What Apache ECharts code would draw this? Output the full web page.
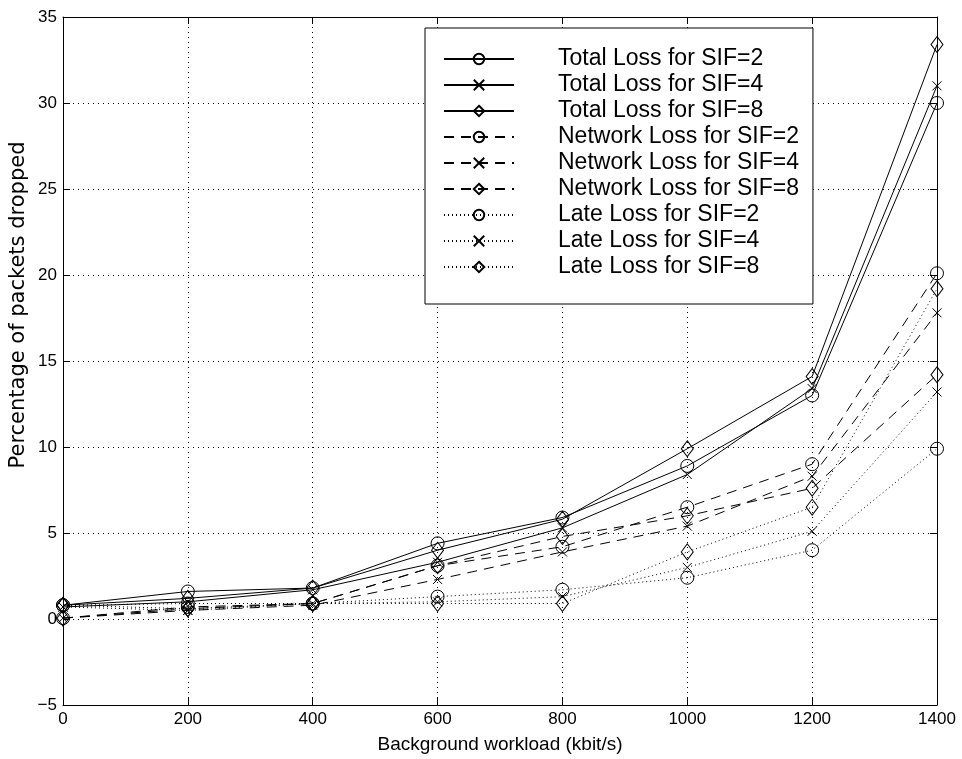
<!DOCTYPE html>
<html>
<head>
<meta charset="utf-8">
<script src="https://cdn.jsdelivr.net/npm/echarts@6/dist/echarts.min.js"></script>
<style>html,body{margin:0;padding:0;background:#fff;}#c{width:962px;height:759px;}</style>
</head>
<body>
<div id="c"></div>
<script>
const xValues = [0, 200, 400, 600, 800, 1000, 1200, 1400];
const totalSIF2 = [0.8, 1.6, 1.8, 4.4, 5.9, 8.9, 13.0, 30.0];
const totalSIF4 = [0.7, 1.0, 1.7, 3.3, 5.3, 8.4, 13.4, 31.0];
const totalSIF8 = [0.8, 1.2, 1.8, 4.0, 5.8, 9.9, 14.1, 33.4];
const networkSIF2 = [0.05, 0.7, 0.9, 3.1, 4.2, 6.5, 9.0, 20.1];
const networkSIF4 = [0.05, 0.5, 0.8, 2.3, 3.9, 5.4, 8.3, 17.8];
const networkSIF8 = [0.05, 0.6, 0.9, 3.1, 4.8, 6.0, 7.6, 14.2];
const lateSIF2 = [0.8, 0.9, 0.9, 1.3, 1.7, 2.4, 4.0, 9.9];
const lateSIF4 = [0.7, 0.5, 0.9, 1.0, 1.3, 3.0, 5.1, 13.2];
const lateSIF8 = [0.8, 0.6, 0.9, 0.9, 0.9, 3.9, 6.5, 19.2];
const seriesNames = [
  'Total Loss for SIF=2', 'Total Loss for SIF=4', 'Total Loss for SIF=8',
  'Network Loss for SIF=2', 'Network Loss for SIF=4', 'Network Loss for SIF=8',
  'Late Loss for SIF=2', 'Late Loss for SIF=4', 'Late Loss for SIF=8'
];
const seriesData = [totalSIF2, totalSIF4, totalSIF8, networkSIF2, networkSIF4, networkSIF8, lateSIF2, lateSIF4, lateSIF8];
const yAxisTitle = 'Percentage of packets dropped';

const FONT = 'Liberation Sans, Arial, Helvetica, sans-serif';
const WIDEFONT = 'DejaVu Sans, Verdana, sans-serif';
const markers = [
  {symbol: 'circle', size: 13},
  {symbol: 'path://M0,0L10,10M10,0L0,10', size: 9},
  {symbol: 'diamond', size: [12, 16]}
];
const dashes = ['solid', [10, 7], [1, 3]];

const series = seriesData.map((d, i) => {
  const m = markers[i % 3];
  const dash = dashes[Math.floor(i / 3)];
  return {
    name: seriesNames[i],
    type: 'line',
    data: xValues.map((x, j) => [x, d[j]]),
    symbol: m.symbol,
    symbolSize: m.size,
    showAllSymbol: true,
    animation: false,
    lineStyle: {color: '#000', width: 1, type: dash},
    itemStyle: {color: 'rgba(0,0,0,0)', borderColor: '#000', borderWidth: 1},
    emphasis: {disabled: true},
    z: 3
  };
});

const gridLine = {show: true, lineStyle: {color: '#000', type: [1, 4], width: 1}};
const axisLine = {show: true, onZero: false, lineStyle: {color: '#000', width: 1}};
const axisTick = {show: true, inside: true, length: 7, lineStyle: {color: '#000'}};
const chart = echarts.init(document.getElementById('c'));
chart.setOption({
  backgroundColor: '#fff',
  animation: false,
  grid: {left: 63, right: 25, top: 17, bottom: 52},
  legend: {
    orient: 'vertical',
    left: 425,
    top: 28,
    data: seriesNames,
    itemWidth: 70,
    itemHeight: 13,
    itemGap: 0,
    padding: [18, 14, 24, 18],
    backgroundColor: '#fff',
    borderColor: '#000',
    borderWidth: 1,
    borderRadius: 0,
    textStyle: {fontFamily: FONT, fontSize: 23, lineHeight: 26, color: '#000', padding: [0, 0, 0, 39]},
    selectedMode: false
  },
  graphic: [{
    type: 'text',
    x: 19, y: 305,
    rotation: Math.PI / 2,
    style: {text: yAxisTitle, font: '21px DejaVu Sans, Verdana, sans-serif', fill: '#000',
      textAlign: 'center', textVerticalAlign: 'middle'}
  }],
  xAxis: [{
    type: 'value', min: 0, max: 1400, interval: 200,
    name: 'Background workload (kbit/s)', nameLocation: 'middle', nameGap: 30,
    nameTextStyle: {fontFamily: FONT, fontSize: 19, color: '#000'},
    axisLine: axisLine, axisTick: axisTick,
    axisLabel: {fontFamily: FONT, fontSize: 17, color: '#000', margin: 6, formatter: v => String(v)},
    splitLine: gridLine
  }, {
    type: 'value', min: 0, max: 1400, interval: 200, position: 'top',
    axisLine: axisLine, axisTick: axisTick,
    axisLabel: {show: false}, splitLine: {show: false}
  }],
  yAxis: [{
    type: 'value', min: -5, max: 35, interval: 5,
    axisLine: axisLine, axisTick: axisTick,
    axisLabel: {fontFamily: FONT, fontSize: 17, color: '#000', margin: 6,
      formatter: v => String(v).replace('-', '\u2212')},
    splitLine: gridLine
  }, {
    type: 'value', min: -5, max: 35, interval: 5, position: 'right',
    axisLine: axisLine, axisTick: axisTick,
    axisLabel: {show: false}, splitLine: {show: false}
  }],
  series: series
});
</script>
</body>
</html>
